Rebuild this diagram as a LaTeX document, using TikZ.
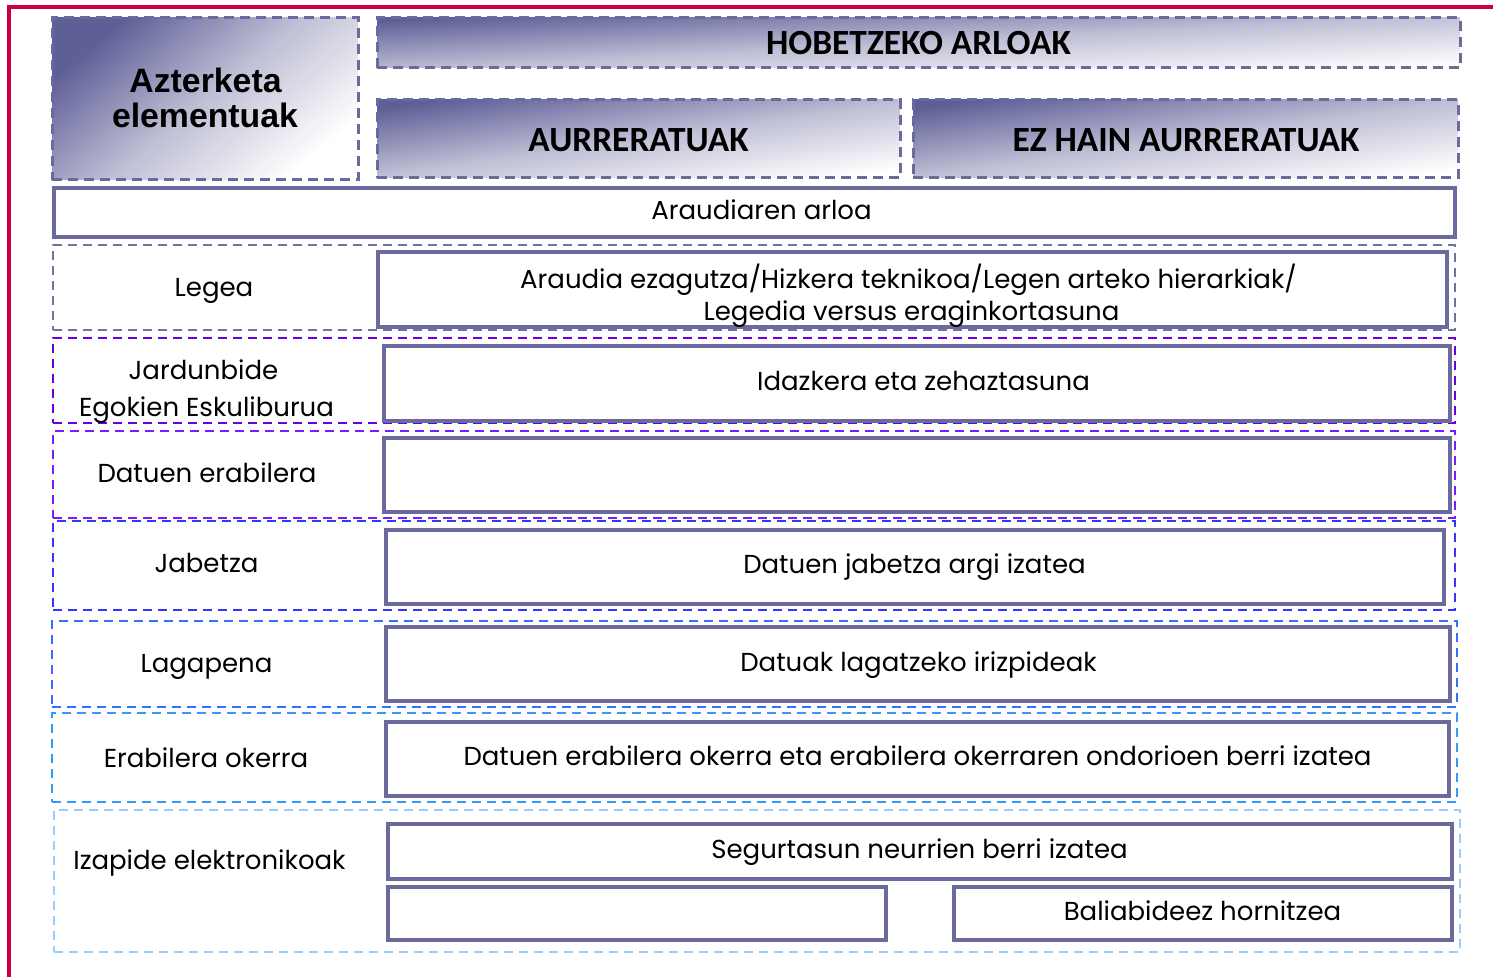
\documentclass[tikz,border=0pt]{standalone}
\usepackage{fontspec}
\usetikzlibrary{fit}
\newfontfamily\bodyf{Poppins}
\newfontfamily\headf{Carlito}
\newfontfamily\arialf{Liberation Sans}
\definecolor{frame}{HTML}{C8003C}
\definecolor{slate}{HTML}{6A6A9C}
\definecolor{dark}{HTML}{5F5F98}
\definecolor{rowA}{HTML}{7272A2}
\definecolor{rowB}{HTML}{6A00DD}
\definecolor{rowC}{HTML}{7A1AFF}
\definecolor{rowD}{HTML}{3535FF}
\definecolor{rowE}{HTML}{3370FF}
\definecolor{rowF}{HTML}{3399FF}
\definecolor{rowG}{HTML}{99CCFF}
\tikzset{
  hdr/.style={draw=slate, line width=1.5pt, dash pattern=on 5pt off 3pt,
    top color=dark, bottom color=white, middle color=dark!40!white,
    inner sep=0pt, outer sep=0pt},
  inbox/.style={draw=slate, line width=1.6pt, fill=white, inner sep=0pt, outer sep=0pt},
  rowbox/.style={line width=1.3pt, dash pattern=on 4.5pt off 3pt, inner sep=0pt, outer sep=0pt},
  txt/.style={font=\bodyf\fontsize{13}{16}\selectfont, inner sep=0pt, anchor=base},
  htxt/.style={font=\headf\bfseries\fontsize{17.7}{18}\selectfont, inner sep=0pt, anchor=base},
  atxt/.style={font=\arialf\bfseries\fontsize{16.9}{18}\selectfont, inner sep=0pt, anchor=base},
}
\begin{document}
\begin{tikzpicture}[x=0.5pt, y=-0.5pt]
\useasboundingbox (0,0) rectangle (1493,977);
% red frame
\coordinate (f1) at (9,977);
\coordinate (f2) at (9,7);
\coordinate (f3) at (1493,7);
\draw[frame, line width=2pt] (f1) -- (f2) -- (f3);
% headers
\node[hdr, shading angle=40, fit={(52,18)(358,180)}] (az) {};
\node[hdr, shading angle=3, fit={(377,18)(1460,68)}] (hob) {};
\node[hdr, shading angle=8, fit={(377,100)(900,178)}] (aur) {};
\node[hdr, shading angle=8, fit={(913,100)(1458,178)}] (ez) {};
\node[atxt] (azt1) at (205.5,92.5) {Azterketa};
\node[atxt] (azt2) at (205,127.5) {elementuak};
\node[htxt] (hobt) at (918.5,55) {HOBETZEKO ARLOAK};
\node[htxt] (aurt) at (638.5,151.5) {AURRERATUAK};
\node[htxt] (ezt) at (1186,151.5) {EZ HAIN AURRERATUAK};
% Araudiaren arloa
\node[inbox, fit={(54,188)(1455,237)}] (ar) {};
\node[txt] (art) at (761.5,220) {Araudiaren arloa};
% rows (outer dashed)
\node[rowbox, draw=rowA, fit={(53,245)(1455,330)}] (r1) {};
\node[rowbox, draw=rowB, fit={(53,338)(1455,423)}] (r2) {};
\node[rowbox, draw=rowC, fit={(53,431)(1455,518)}] (r3) {};
\node[rowbox, draw=rowD, fit={(53,521)(1455,610)}] (r4) {};
\node[rowbox, draw=rowE, fit={(52,621)(1457,707)}] (r5) {};
\node[rowbox, draw=rowF, fit={(52,713)(1457,802)}] (r6) {};
\node[rowbox, draw=rowG, fit={(54,810)(1460,952)}] (r7) {};
% inner boxes
\node[inbox, fit={(378,252)(1447,327)}] (b1) {};
\node[inbox, fit={(384,346)(1450,421)}] (b2) {};
\node[inbox, fit={(384,438)(1450,512)}] (b3) {};
\node[inbox, fit={(386,530)(1444,604)}] (b4) {};
\node[inbox, fit={(386,627)(1450,701)}] (b5) {};
\node[inbox, fit={(386,722)(1449,796)}] (b6) {};
\node[inbox, fit={(388,824)(1452,879)}] (b7) {};
\node[inbox, fit={(388,887)(886,940)}] (b8) {};
\node[inbox, fit={(954,887)(1452,940)}] (b9) {};
% inner texts
\node[txt] (b1t1) at (908.5,289) {Araudia ezagutza/Hizkera teknikoa/Legen arteko hierarkiak/};
\node[txt] (b1t2) at (911.5,321) {Legedia versus eraginkortasuna};
\node[txt] (b2t) at (923.5,390.5) {Idazkera eta zehaztasuna};
\node[txt] (b4t) at (914.5,574) {Datuen jabetza argi izatea};
\node[txt] (b5t) at (918.5,672) {Datuak lagatzeko irizpideak};
\node[txt] (b6t) at (917.5,765.5) {Datuen erabilera okerra eta erabilera okerraren ondorioen berri izatea};
\node[txt] (b7t) at (919.5,858) {Segurtasun neurrien berri izatea};
\node[txt] (b9t) at (1202.5,920.5) {Baliabideez hornitzea};
% left labels
\node[txt] (l1) at (214,297) {Legea};
\node[txt] (l2a) at (203.5,380) {Jardunbide};
\node[txt] (l2b) at (206.5,416.5) {Egokien Eskuliburua};
\node[txt] (l3) at (207,482.5) {Datuen erabilera};
\node[txt] (l4) at (206.5,573) {Jabetza};
\node[txt] (l5) at (206.5,673) {Lagapena};
\node[txt] (l6) at (206,767) {Erabilera okerra};
\node[txt] (l7) at (209.5,869) {Izapide elektronikoak};
\end{tikzpicture}
\end{document}
